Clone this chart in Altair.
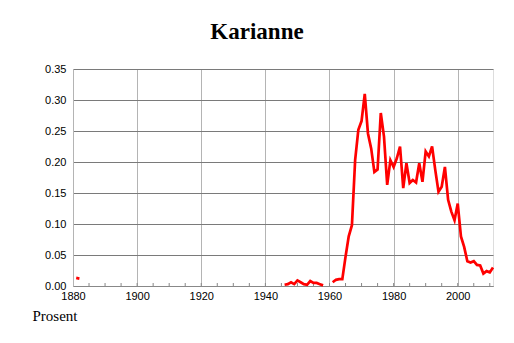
import altair as alt
import pandas as pd

# Data segments (year of first point, values)
seg1_start = 1881
seg1_values = [0.013, 0.012]
seg2_start = 1946
seg2_values = [0.002, 0.003, 0.006, 0.003, 0.009, 0.006, 0.003, 0.002, 0.008,
               0.005, 0.005, 0.003, 0.001]
seg3_start = 1961
seg3_values = [0.006, 0.010, 0.011, 0.011, 0.047, 0.080, 0.098, 0.203, 0.252,
               0.266, 0.310, 0.246, 0.222, 0.184, 0.188, 0.279, 0.241, 0.163,
               0.203, 0.192, 0.206, 0.225, 0.158, 0.198, 0.166, 0.171, 0.167,
               0.198, 0.168, 0.217, 0.209, 0.225, 0.187, 0.152, 0.160, 0.192,
               0.139, 0.120, 0.106, 0.133, 0.080, 0.063, 0.040, 0.038, 0.040,
               0.034, 0.033, 0.020, 0.024, 0.022, 0.030]

x_labels = [1880, 1900, 1920, 1940, 1960, 1980, 2000]
minor_ticks = list(range(1885, 2011, 5))
y_ticks = [0.0, 0.05, 0.10, 0.15, 0.20, 0.25, 0.30, 0.35]

rows = []
for seg_id, (start, vals) in enumerate(
        [(seg1_start, seg1_values), (seg2_start, seg2_values), (seg3_start, seg3_values)]):
    for i, v in enumerate(vals):
        rows.append({"year": start + i, "value": v, "seg": seg_id})
df = pd.DataFrame(rows)
ticks_df = pd.DataFrame({"year": minor_ticks})

xscale = alt.Scale(domain=[1880, 2011], nice=False, zero=False)
yscale = alt.Scale(domain=[0, 0.35], nice=False)

line = alt.Chart(df).mark_line(color="#ff0000", strokeWidth=2.7).encode(
    x=alt.X("year:Q", scale=xscale,
            axis=alt.Axis(values=x_labels, format="d", title=None, ticks=False,
                          grid=True, gridColor="#b4b4b4", gridWidth=1,
                          domainColor="#888888", labelFont="Liberation Sans",
                          labelFontSize=11, labelColor="#000000", labelPadding=4,
                          labelFlush=False, labelOverlap=False)),
    y=alt.Y("value:Q", scale=yscale,
            axis=alt.Axis(values=y_ticks, format=".2f", ticks=False, grid=True,
                          gridColor="#7a7a7a", gridWidth=1, domainColor="#b4b4b4",
                          labelFont="Liberation Sans", labelFontSize=11,
                          labelColor="#000000", labelPadding=7, labelFlush=False,
                          title="Prosent", titleAngle=0, titleX=-41, titleY=251,
                          titleAlign="left", titleBaseline="alphabetic",
                          titleFont="Liberation Serif", titleFontSize=15,
                          titleFontWeight="normal", titleColor="#000000")),
    detail="seg:N",
)

minor = alt.Chart(ticks_df).mark_rule(color="#888888", strokeWidth=1).encode(
    x=alt.X("year:Q", scale=xscale),
    y=alt.value(217),
    y2=alt.value(214),
)

chart = alt.layer(minor, line).properties(
    width=420,
    height=217,
    autosize=alt.AutoSizeParams(type="none"),
    padding={"left": 73, "top": 69, "right": 21, "bottom": 57},
    title=alt.TitleParams(text="Karianne", font="Liberation Serif", fontSize=23,
                          fontWeight="bold", color="#000000", anchor="middle",
                          baseline="alphabetic", offset=1, dx=-26),
).configure_view(stroke=None).configure(background="white")

chart.save("out.html", embed_options={"renderer": "svg", "actions": False})
